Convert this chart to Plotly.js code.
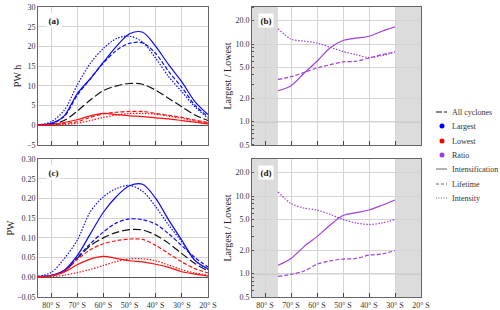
<!DOCTYPE html>
<html><head><meta charset="utf-8">
<script src="https://cdn.plot.ly/plotly-3.0.1.min.js"></script>
<style>html,body{margin:0;padding:0;background:#fff}#chart{width:500px;height:310px}</style>
</head><body><div id="chart"></div>
<script>
// ---- data ----
const lat = [-85,-80,-75,-70,-65,-60,-55,-50,-45,-40,-35,-30,-25,-20];
const tickVals = [-80,-70,-60,-50,-40,-30,-20];
const tickText = ["80° S","70° S","60° S","50° S","40° S","30° S","20° S"];

// panel (a) PW h
const aAll       = [0.1, 0.3, 1.2, 3.6, 6.4, 8.8, 10.0, 10.6, 10.4, 8.9, 6.8, 4.7, 2.6, 1.2];
const aLargeInt  = [0.1, 0.5, 2.4, 8.0, 11.8, 16.0, 20.0, 23.2, 23.6, 20.0, 15.3, 11.0, 6.0, 2.7];
const aLargeLife = [0.1, 0.4, 2.2, 7.6, 11.8, 15.8, 19.0, 20.8, 20.9, 18.2, 13.6, 9.6, 5.1, 2.2];
const aLargeInty = [0.1, 0.9, 3.8, 10.2, 15.7, 19.5, 22.0, 22.6, 21.1, 17.0, 12.3, 8.5, 4.7, 1.8];
const aLowInt    = [0.0, 0.2, 0.7, 1.4, 2.4, 3.0, 2.7, 2.4, 2.2, 1.9, 1.6, 1.2, 0.8, 0.35];
const aLowLife   = [0.0, 0.1, 0.4, 0.9, 2.0, 2.9, 3.3, 3.5, 3.5, 3.0, 2.5, 2.0, 1.3, 0.7];
const aLowInty   = [0.0, 0.05, 0.2, 0.5, 1.2, 2.0, 2.6, 3.0, 3.0, 2.8, 2.3, 1.8, 1.1, 0.5];

// panel (c) PW
const cAll       = [0.002, 0.004, 0.015, 0.048, 0.080, 0.100, 0.114, 0.121, 0.120, 0.107, 0.086, 0.060, 0.035, 0.016];
const cLargeInt  = [0.002, 0.005, 0.018, 0.055, 0.110, 0.165, 0.205, 0.232, 0.236, 0.200, 0.145, 0.094, 0.043, 0.022];
const cLargeLife = [0.002, 0.004, 0.017, 0.050, 0.085, 0.115, 0.138, 0.148, 0.146, 0.135, 0.110, 0.080, 0.050, 0.026];
const cLargeInty = [0.003, 0.012, 0.047, 0.094, 0.166, 0.204, 0.225, 0.233, 0.218, 0.179, 0.132, 0.090, 0.043, 0.020];
const cLowInt    = [0.001, 0.004, 0.013, 0.032, 0.046, 0.053, 0.048, 0.042, 0.039, 0.033, 0.025, 0.014, 0.008, 0.003];
const cLowLife   = [0.001, 0.004, 0.015, 0.045, 0.070, 0.085, 0.093, 0.097, 0.096, 0.081, 0.060, 0.039, 0.022, 0.011];
const cLowInty   = [0.000, 0.002, 0.005, 0.012, 0.020, 0.030, 0.040, 0.047, 0.047, 0.042, 0.031, 0.019, 0.011, 0.005];

// ratio panels (b), (d)
const latR  = [-75,-70,-65,-60,-55,-50,-45,-40,-35,-30];
const bInt  = [2.5, 2.9, 4.2, 6.0, 8.9, 11.1, 11.9, 12.6, 14.6, 16.6];
const bLife = [3.5, 3.8, 4.3, 4.9, 5.4, 5.9, 6.0, 6.6, 7.3, 7.9];
const bInty = [15.8, 11.6, 10.9, 10.3, 9.1, 8.0, 7.3, 6.7, 7.1, 7.9];
const dInt  = [1.28, 1.57, 2.23, 3.0, 4.2, 5.6, 6.1, 6.6, 7.6, 8.9];
const dLife = [0.92, 0.98, 1.08, 1.32, 1.46, 1.54, 1.57, 1.73, 1.79, 1.98];
const dInty = [11.3, 8.0, 7.0, 6.6, 5.8, 5.0, 4.5, 4.3, 4.5, 5.0];

const ratioTicks = [0.5, 1, 2, 5, 10, 20];
const ratioTickText = ["0.5","1.0","2.0","5.0","10.0","20.0"];
const legendLabels = ["All cyclones","Largest","Lowest","Ratio","Intensification","Lifetime","Intensity"];

// ---- styles ----
const BLUE = "#0a0aff", RED = "#ff1010", PURPLE = "#a040d8", BLACK = "#111";
const DASH = "4px,2px", LDASH = "8px,3px", DOT = "1.5px,1.5px";
const FONT = "Liberation Serif, Times New Roman, serif";

function tr(x, y, color, dash, xa, ya, name) {
  return {x: x, y: y, type: "scatter", mode: "lines", name: name, showlegend: false,
          xaxis: xa, yaxis: ya, hoverinfo: "skip",
          line: {color: color, width: 1.2, dash: dash, shape: "spline", smoothing: 0.9}};
}

const traces = [
  tr(lat, aAll, BLACK, LDASH, "x", "y", "All cyclones"),
  tr(lat, aLargeInt, BLUE, "solid", "x", "y", "Largest Intensification"),
  tr(lat, aLargeLife, BLUE, DASH, "x", "y", "Largest Lifetime"),
  tr(lat, aLargeInty, BLUE, DOT, "x", "y", "Largest Intensity"),
  tr(lat, aLowInt, RED, "solid", "x", "y", "Lowest Intensification"),
  tr(lat, aLowLife, RED, DASH, "x", "y", "Lowest Lifetime"),
  tr(lat, aLowInty, RED, DOT, "x", "y", "Lowest Intensity"),

  tr(latR, bInt, PURPLE, "solid", "x2", "y2", "Ratio Intensification"),
  tr(latR, bLife, PURPLE, DASH, "x2", "y2", "Ratio Lifetime"),
  tr(latR, bInty, PURPLE, DOT, "x2", "y2", "Ratio Intensity"),

  tr(lat, cAll, BLACK, LDASH, "x3", "y3", "All cyclones"),
  tr(lat, cLargeInt, BLUE, "solid", "x3", "y3", "Largest Intensification"),
  tr(lat, cLargeLife, BLUE, DASH, "x3", "y3", "Largest Lifetime"),
  tr(lat, cLargeInty, BLUE, DOT, "x3", "y3", "Largest Intensity"),
  tr(lat, cLowInt, RED, "solid", "x3", "y3", "Lowest Intensification"),
  tr(lat, cLowLife, RED, DASH, "x3", "y3", "Lowest Lifetime"),
  tr(lat, cLowInty, RED, DOT, "x3", "y3", "Lowest Intensity"),

  tr(latR, dInt, PURPLE, "solid", "x4", "y4", "Ratio Intensification"),
  tr(latR, dLife, PURPLE, DASH, "x4", "y4", "Ratio Lifetime"),
  tr(latR, dInty, PURPLE, DOT, "x4", "y4", "Ratio Intensity"),
];

const GRID = "#d4d4d4", FRAME = "#666";
const tickFont = {family: FONT, size: 8, color: "#333"};

function xax(domain, anchor, labels) {
  return {domain: domain, anchor: anchor, range: [-85, -20], tickvals: tickVals, ticktext: tickText,
          showticklabels: labels, ticks: "inside", ticklen: 4, tickcolor: "#444",
          showgrid: true, gridcolor: GRID, gridwidth: 1, zeroline: false,
          showline: true, linecolor: FRAME, linewidth: 1, mirror: true, tickfont: tickFont, fixedrange: true};
}
function yLin(domain, anchor, range, dtick, fmt, title, standoff) {
  return {domain: domain, anchor: anchor, range: range, dtick: dtick, tick0: 0, tickformat: fmt,
          ticks: "", showgrid: true, gridcolor: GRID, gridwidth: 1,
          zeroline: true, zerolinecolor: "#555", zerolinewidth: 1,
          showline: true, linecolor: FRAME, linewidth: 1, mirror: true, tickfont: tickFont,
          title: {text: title, font: {family: FONT, size: 10, color: "#222"}, standoff: standoff}, fixedrange: true};
}
function yLog(domain, anchor) {
  return {domain: domain, anchor: anchor, type: "log", range: [Math.log10(0.5), Math.log10(30)],
          tickvals: ratioTicks, ticktext: ratioTickText, ticks: "",
          minor: {ticks: "inside", ticklen: 2, tickcolor: "#555", showgrid: false, dtick: "D1"},
          showgrid: true, gridcolor: GRID, gridwidth: 1, zeroline: false,
          showline: true, linecolor: FRAME, linewidth: 1, mirror: true, tickfont: tickFont,
          title: {text: "Largest / Lowest", font: {family: FONT, size: 10, color: "#222"}, standoff: 1}, fixedrange: true};
}

const XA = [0.076, 0.416], XB = [0.504, 0.842];
const YTOP = [0.5323, 0.9774], YBOT = [0.0419, 0.4871];

function shade(xa, ya, x0, x1) {
  return {type: "rect", xref: xa, yref: ya + " domain", x0: x0, x1: x1, y0: 0, y1: 1,
          fillcolor: "#dcdcdc", line: {width: 0}, layer: "below"};
}
function oneLine(xa, ya) {
  return {type: "line", xref: xa + " domain", yref: ya, x0: 0, x1: 1, y0: 1, y1: 1,
          line: {color: "#555", width: 1}, layer: "below"};
}
function panelLabel(txt, xa, ya, x) {
  return {text: "<b>" + txt + "</b>", xref: xa + " domain", yref: ya + " domain", x: x, y: 0.955,
          xanchor: "left", yanchor: "top", showarrow: false, bgcolor: "#fff", borderpad: 1.5,
          font: {family: FONT, size: 9, color: "#111"}};
}

// manual legend (paper coords from pixel positions)
const px = v => v / 500, py = v => 1 - v / 310;
const legY = [112, 126, 141, 155, 169, 184, 198];
const legShapes = [
  {type: "line", xref: "paper", yref: "paper", x0: px(436), x1: px(447), y0: py(legY[0]), y1: py(legY[0]), line: {color: BLACK, width: 1.2, dash: "6px,2px"}},
  {type: "circle", xref: "paper", yref: "paper", x0: px(439.5), x1: px(444.5), y0: py(legY[1] + 2.5), y1: py(legY[1] - 2.5), fillcolor: "#0000ff", line: {width: 0}},
  {type: "circle", xref: "paper", yref: "paper", x0: px(439.5), x1: px(444.5), y0: py(legY[2] + 2.5), y1: py(legY[2] - 2.5), fillcolor: "#ff0000", line: {width: 0}},
  {type: "circle", xref: "paper", yref: "paper", x0: px(439.5), x1: px(444.5), y0: py(legY[3] + 2.5), y1: py(legY[3] - 2.5), fillcolor: PURPLE, line: {width: 0}},
  {type: "line", xref: "paper", yref: "paper", x0: px(436), x1: px(447), y0: py(legY[4]), y1: py(legY[4]), line: {color: "#666", width: 1}},
  {type: "line", xref: "paper", yref: "paper", x0: px(436), x1: px(447), y0: py(legY[5]), y1: py(legY[5]), line: {color: "#666", width: 1, dash: "3px,2px"}},
  {type: "line", xref: "paper", yref: "paper", x0: px(436), x1: px(447), y0: py(legY[6]), y1: py(legY[6]), line: {color: "#666", width: 1, dash: "1px,1.5px"}},
];
const legAnn = legendLabels.map((t, i) => ({
  text: t, xref: "paper", yref: "paper", x: px(450), y: py(legY[i]), xanchor: "left", yanchor: "middle",
  showarrow: false, font: {family: FONT, size: 8, color: "#333"}
}));

const layout = {
  width: 500, height: 310, margin: {l: 0, r: 0, t: 0, b: 0},
  paper_bgcolor: "#fff", plot_bgcolor: "#fff", showlegend: false,
  font: {family: FONT, size: 8, color: "#333"},
  xaxis: xax(XA, "y", false),
  yaxis: yLin(YTOP, "x", [-5, 30], 5, "d", "PW h", 3),
  xaxis2: xax(XB, "y2", false),
  yaxis2: yLog(YTOP, "x2"),
  xaxis3: xax(XA, "y3", true),
  yaxis3: yLin(YBOT, "x3", [-0.05, 0.30], 0.05, ".2f", "PW", 0),
  xaxis4: xax(XB, "y4", true),
  yaxis4: yLog(YBOT, "x4"),
  shapes: [
    shade("x2", "y2", -85, -75), shade("x2", "y2", -30, -20),
    shade("x4", "y4", -85, -75), shade("x4", "y4", -30, -20),
    oneLine("x2", "y2"), oneLine("x4", "y4"),
  ].concat(legShapes),
  annotations: [
    panelLabel("(a)", "x", "y", 0.045),
    panelLabel("(b)", "x2", "y2", 0.035),
    panelLabel("(c)", "x3", "y3", 0.045),
    panelLabel("(d)", "x4", "y4", 0.035),
  ].concat(legAnn),
};

Plotly.newPlot("chart", traces, layout, {displayModeBar: false, staticPlot: true});
</script>
</body></html>
